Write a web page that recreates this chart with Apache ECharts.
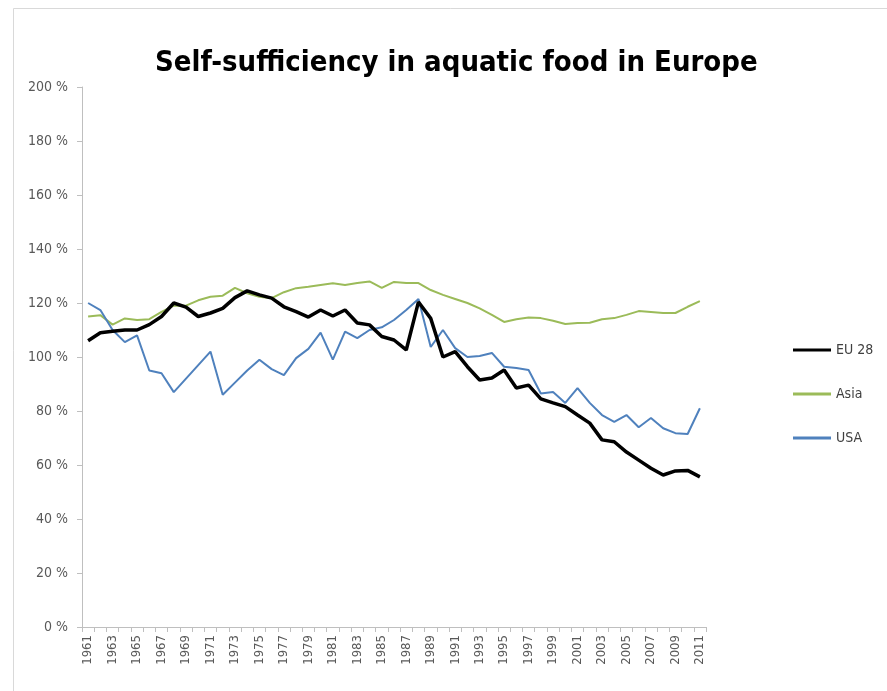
<!DOCTYPE html>
<html>
<head>
<meta charset="utf-8">
<script src="https://cdn.jsdelivr.net/npm/echarts@6/dist/echarts.min.js"></script>
<style>html,body{margin:0;padding:0;background:#fff}#c{width:887px;height:691px}</style>
</head>
<body>
<div id="c"></div>
<script>
const years = [];
for (let y = 1961; y <= 2011; y++) years.push(String(y));

const eu28 = [106,109,109.5,110,110,112,115,120,118.5,115,116.3,118,122,124.5,123,121.8,118.6,116.8,114.8,117.4,115.2,117.4,112.6,111.9,107.6,106.3,102.6,120.4,114.3,100,102,96.4,91.5,92.2,95.2,88.5,89.6,84.5,83,81.6,78.5,75.5,69.3,68.6,64.8,61.8,58.8,56.3,57.8,58,55.6];
const asia = [115,115.5,112,114.3,113.7,114,116.7,119,119,121,122.3,122.7,125.6,123.6,122.3,121.8,124,125.5,126,126.7,127.3,126.7,127.4,128,125.6,127.8,127.4,127.4,124.8,123,121.5,120,118,115.6,113,114,114.6,114.4,113.4,112.2,112.6,112.7,114,114.4,115.6,117,116.7,116.3,116.3,118.6,120.7];
const usa = [120,117.4,110,105.5,108,95,94,87,92,97,102,86,90.5,95,99,95.5,93.3,99.6,103,109,99,109.4,107,110,111,113.7,117.4,121.5,103.7,110,103.3,100,100.4,101.5,96.4,95.9,95.2,86.5,87,83,88.5,83,78.5,76,78.5,74,77.4,73.6,71.8,71.5,81];

const yTicks = [0,20,40,60,80,100,120,140,160,180,200];
const FONT = "'DejaVu Sans Condensed',sans-serif";

const chart = echarts.init(document.getElementById('c'), null, {renderer:'canvas'});
chart.setOption({
  backgroundColor:'#ffffff',
  animation:false,
  title:{
    text:'Self-sufficiency in aquatic food in Europe',
    left:150, top:44,
    textStyle:{fontFamily:FONT, fontWeight:'bold', fontSize:29, color:'#000'}
  },
  graphic:[{type:'rect', shape:{x:13.5,y:8.5,width:900,height:700}, style:{fill:'none', stroke:'#d9d9d9', lineWidth:1}, silent:true}],
  legend:{
    orient:'vertical', left:788, top:338, itemGap:30,
    icon:'rect', itemWidth:38, itemHeight:3, itemTextGap:4,
    textStyle:{fontFamily:FONT, fontSize:14, color:'#404040'},
    data:['EU 28','Asia','USA']
  },
  grid:{left:82, right:181, top:87, bottom:64, containLabel:false},
  xAxis:{
    type:'category', data:years, boundaryGap:true,
    axisLine:{lineStyle:{color:'#bfbfbf'}},
    axisTick:{show:true, interval:0, length:5, lineStyle:{color:'#bfbfbf'}},
    axisLabel:{rotate:90, interval:1, fontFamily:FONT, fontSize:13, color:'#595959', margin:8}
  },
  yAxis:{
    type:'value', min:0, max:200, interval:20,
    axisLine:{show:true, lineStyle:{color:'#bfbfbf'}},
    axisTick:{show:true, length:5, lineStyle:{color:'#bfbfbf'}},
    splitLine:{show:false},
    axisLabel:{formatter: v => yTicks.includes(v) ? v + ' %' : '', fontFamily:FONT, fontSize:14, color:'#595959', margin:14}
  },
  series:[
    {name:'EU 28', type:'line', data:eu28, symbol:'none', lineStyle:{color:'#000000', width:3.5}, itemStyle:{color:'#000000'}, z:3},
    {name:'Asia', type:'line', data:asia, symbol:'none', lineStyle:{color:'#9bbb59', width:2}, itemStyle:{color:'#9bbb59'}, z:2},
    {name:'USA', type:'line', data:usa, symbol:'none', lineStyle:{color:'#4f81bd', width:2}, itemStyle:{color:'#4f81bd'}, z:2}
  ]
});
</script>
</body>
</html>
